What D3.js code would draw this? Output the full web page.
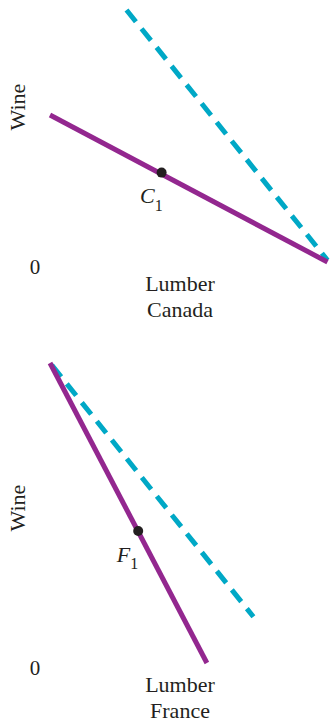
<!DOCTYPE html>
<html>
<head>
<meta charset="utf-8">
<script src="https://cdn.jsdelivr.net/npm/d3@7"></script>
<style>
  html, body { margin: 0; padding: 0; background: #fff; }
  svg { display: block; }
  text { font-family: "Liberation Serif", "Times New Roman", serif; fill: #231f20; }
</style>
</head>
<body>
<script>
// Production possibility frontiers for two countries and the world price line
const countries = ["Canada", "France"];
const pointLetters = ["C", "F"];
const ppfWine = [49, 100];          // wine output when all resources go to wine
const ppfLumber = [92.5, 52.3];     // lumber output when all resources go to lumber
const tradeLumber = [[25.5, 92.5], [0.6, 67.8]];  // lumber extent of the world price line
const tradeWine = [[84, 0.6], [99.3, 15.4]];      // matching wine values
const autarkyLumber = [37.2, 29.4]; // no-trade production/consumption point
const autarkyWine = [29.8, 44];

const W = 331, H = 727;
const purple = "#93278f";
const cyan = "#00a8c6";

const svg = d3.select("body").append("svg")
  .attr("width", W).attr("height", H);

// shared scales: one unit of either good = 3 px
const x = d3.scaleLinear().domain([0, 100]).range([0, 300]);
const y = d3.scaleLinear().domain([0, 100]).range([0, -300]);

const origins = [[50, 262], [50, 663]];

countries.forEach((name, i) => {
  const g = svg.append("g")
    .attr("transform", `translate(${origins[i][0]},${origins[i][1]})`);

  const line = d3.line().x(d => x(d[0])).y(d => y(d[1]));

  // world price line (dashed)
  g.append("path")
    .datum([[tradeLumber[i][0], tradeWine[i][0]], [tradeLumber[i][1], tradeWine[i][1]]])
    .attr("d", line)
    .attr("fill", "none")
    .attr("stroke", cyan)
    .attr("stroke-width", 5)
    .attr("stroke-dasharray", "15,9");

  // production possibility frontier
  g.append("path")
    .datum([[0, ppfWine[i]], [ppfLumber[i], 0]])
    .attr("d", line)
    .attr("fill", "none")
    .attr("stroke", purple)
    .attr("stroke-width", 5);

  // autarky point
  const px = x(autarkyLumber[i]), py = y(autarkyWine[i]);
  g.append("circle")
    .attr("cx", px).attr("cy", py).attr("r", 5)
    .attr("fill", "#231f20");

  const lab = g.append("text")
    .attr("x", px - 21.5).attr("y", py + 30.5)
    .attr("font-size", 22);
  lab.append("tspan").attr("font-style", "italic").text(pointLetters[i]);
  lab.append("tspan").attr("font-size", 16).attr("dy", 7.5).text("1");

  // origin label
  g.append("text")
    .attr("x", -15).attr("y", 12)
    .attr("text-anchor", "middle")
    .attr("font-size", 21)
    .text("0");

  // axis titles
  g.append("text")
    .attr("transform", `translate(-25,${-155}) rotate(-90)`)
    .attr("text-anchor", "middle")
    .attr("font-size", 22)
    .text("Wine");

  g.append("text")
    .attr("x", 130).attr("y", 29)
    .attr("text-anchor", "middle")
    .attr("font-size", 22)
    .text("Lumber");

  g.append("text")
    .attr("x", 130).attr("y", 55)
    .attr("text-anchor", "middle")
    .attr("font-size", 22)
    .text(name);
});
</script>
</body>
</html>
